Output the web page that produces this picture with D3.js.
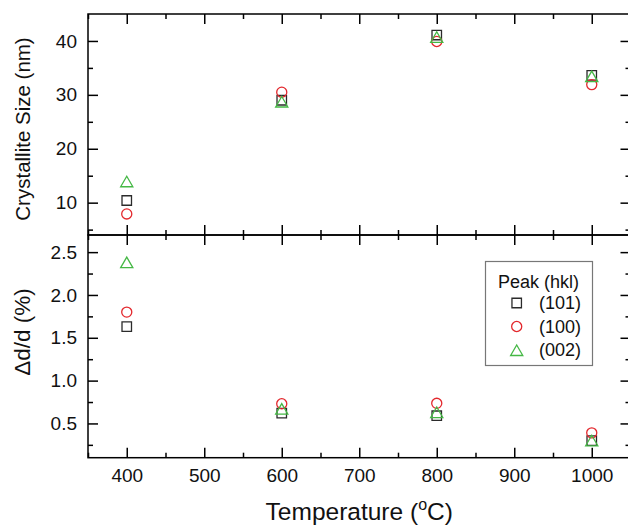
<!DOCTYPE html>
<html>
<head>
<meta charset="utf-8">
<script src="https://cdn.jsdelivr.net/npm/d3@7"></script>
<style>
  body { margin: 0; background: #fff; }
  svg { display: block; font-family: "Liberation Sans", Arial, sans-serif; }
</style>
</head>
<body>
<svg id="chart" width="628" height="525"></svg>
<script>
// annealing temperature (°C)
const temps = [400, 600, 800, 1000];
// crystallite size (nm) per peak
const size101 = [10.4, 29.0, 41.1, 33.6];
const size100 = [7.9, 30.5, 39.9, 31.9];
const size002 = [13.6, 28.4, 40.4, 33.1];
// Δd/d (%) per peak
const strain101 = [1.63, 0.62, 0.59, 0.30];
const strain100 = [1.80, 0.73, 0.735, 0.39];
const strain002 = [2.36, 0.65, 0.61, 0.28];

const peakNames = ['(101)', '(100)', '(002)'];
const xTicks = [400, 500, 600, 700, 800, 900, 1000];
const xMinor = [350, 450, 550, 650, 750, 850, 950, 1050];
const sizeTicks = [10, 20, 30, 40];
const sizeMinor = [5, 15, 25, 35];
const strainTicks = [0.5, 1.0, 1.5, 2.0, 2.5];
const strainMinor = [0.25, 0.75, 1.25, 1.75, 2.25];

const mLeft = 88, mRight = 630.5, mTop = 14, mMid = 235, mBottom = 457.7;
const svg = d3.select('#chart');

const x = d3.scaleLinear().domain([350, 1050]).range([mLeft, mRight]);
const ySize = d3.scaleLinear().domain([4, 45]).range([mMid, mTop]);
const yStrain = d3.scaleLinear().domain([0.1, 2.7]).range([mBottom, mMid]);

const styles = [
    { type: d3.symbolSquare, size: 90, color: '#2b2b2b' },
    { type: d3.symbolCircle, size: 80, color: '#e3282d' },
    { type: d3.symbolTriangle, size: 64, color: '#45b845' }
];

function styleAxis(g, fontSize) {
    g.select('.domain').remove();
    g.selectAll('.tick line').attr('stroke', '#000').attr('stroke-width', 1.5);
    g.selectAll('.tick text').attr('fill', '#111').style('font-size', fontSize + 'px')
        .style('font-family', '"Liberation Sans", Arial, sans-serif');
}

function drawTicks(axisFn, scale, major, minor, transform, labels) {
    const a = axisFn(scale).tickValues(major).tickSizeInner(-10).tickSizeOuter(0)
        .tickPadding(labels ? 11 : 0).tickFormat(labels ? labels : () => '');
    svg.append('g').attr('transform', transform).call(a).call(g => styleAxis(g, 19));
    const m = axisFn(scale).tickValues(minor).tickSizeInner(-5).tickSizeOuter(0).tickFormat(() => '');
    svg.append('g').attr('transform', transform).call(m).call(g => styleAxis(g, 19));
}

// x ticks on every horizontal edge
drawTicks(d3.axisTop, x, xTicks, xMinor, `translate(0,${mTop})`);
drawTicks(d3.axisBottom, x, xTicks, xMinor, `translate(0,${mMid})`);
drawTicks(d3.axisTop, x, xTicks, xMinor, `translate(0,${mMid})`);
drawTicks(d3.axisBottom, x, xTicks, xMinor, `translate(0,${mBottom})`, d3.format('d'));

// y ticks
drawTicks(d3.axisLeft, ySize, sizeTicks, sizeMinor, `translate(${mLeft},0)`, d3.format('d'));
drawTicks(d3.axisRight, ySize, sizeTicks, sizeMinor, `translate(${mRight},0)`);
drawTicks(d3.axisLeft, yStrain, strainTicks, strainMinor, `translate(${mLeft},0)`, d3.format('.1f'));
drawTicks(d3.axisRight, yStrain, strainTicks, strainMinor, `translate(${mRight},0)`);

// frames
svg.append('rect').attr('x', mLeft).attr('y', mTop).attr('width', mRight - mLeft).attr('height', mMid - mTop)
    .attr('fill', 'none').attr('stroke', '#000').attr('stroke-width', 1.5);
svg.append('rect').attr('x', mLeft).attr('y', mMid).attr('width', mRight - mLeft).attr('height', mBottom - mMid)
    .attr('fill', 'none').attr('stroke', '#000').attr('stroke-width', 1.5);

// points
function drawSeries(values, yScale, st) {
    svg.append('g').selectAll('path').data(values).join('path')
        .attr('d', d3.symbol().type(st.type).size(st.size))
        .attr('transform', (d, i) => `translate(${x(temps[i])},${yScale(d)})`)
        .attr('fill', 'none').attr('stroke', st.color).attr('stroke-width', 1.3);
}
[size101, size100, size002].forEach((s, i) => drawSeries(s, ySize, styles[i]));
[strain101, strain100, strain002].forEach((s, i) => drawSeries(s, yStrain, styles[i]));

// axis titles
svg.append('text').attr('transform', `translate(30,129) rotate(-90)`).attr('text-anchor', 'middle')
    .style('font-size', '20.5px').attr('fill', '#111').text('Crystallite Size (nm)');
svg.append('text').attr('transform', `translate(30,332) rotate(-90)`).attr('text-anchor', 'middle')
    .style('font-size', '22.5px').attr('fill', '#111').text('Δd/d (%)');
const xt = svg.append('text').attr('x', (mLeft + mRight) / 2).attr('y', 520).attr('text-anchor', 'middle')
    .style('font-size', '24.5px').attr('fill', '#111');
xt.append('tspan').text('Temperature (');
xt.append('tspan').attr('dy', -10).style('font-size', '16px').text('o');
xt.append('tspan').attr('dy', 10).text('C)');

// legend
const lg = svg.append('g');
lg.append('rect').attr('x', 485.5).attr('y', 261.5).attr('width', 107).attr('height', 104)
    .attr('fill', '#fff').attr('stroke', '#777').attr('stroke-width', 1.2);
lg.append('text').attr('x', 498).attr('y', 288).style('font-size', '18px').attr('fill', '#111').text('Peak (hkl)');
peakNames.forEach((name, i) => {
    const yy = 303 + i * 23.5;
    lg.append('path').attr('d', d3.symbol().type(styles[i].type).size(styles[i].size))
        .attr('transform', `translate(516.7,${yy + (i === 2 ? 2 : 0)})`)
        .attr('fill', 'none').attr('stroke', styles[i].color).attr('stroke-width', 1.3);
    lg.append('text').attr('x', 539).attr('y', yy).attr('dy', '0.35em')
        .style('font-size', '18px').attr('fill', '#111').text(name);
});
</script>
</body>
</html>
